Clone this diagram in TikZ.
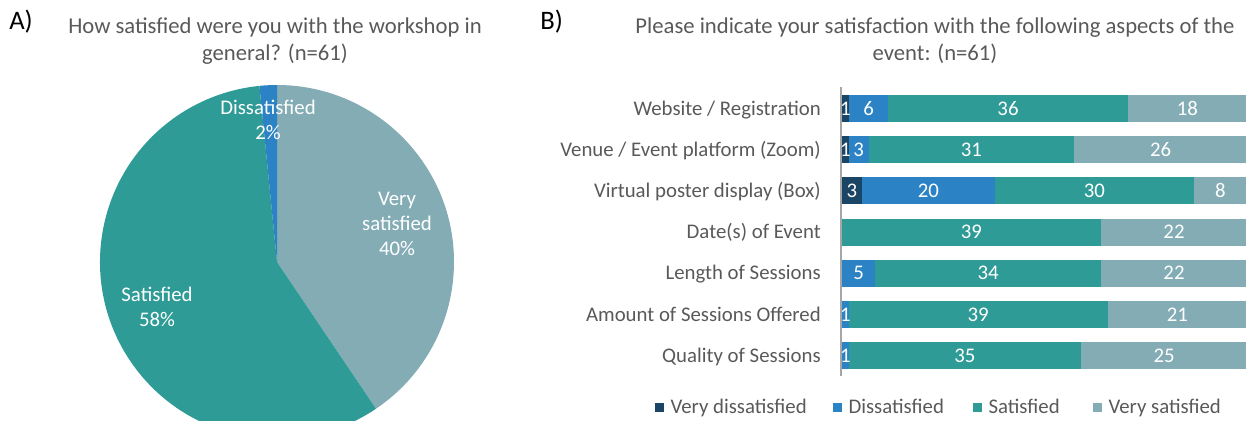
\documentclass[tikz,border=0pt]{standalone}
\usepackage{fontspec}
\setmainfont{Carlito}
\usetikzlibrary{positioning}
\definecolor{vdis}{HTML}{1B4565}
\definecolor{dis}{HTML}{2B83C6}
\definecolor{sat}{HTML}{2E9B96}
\definecolor{vsat}{HTML}{84ACB5}
\definecolor{txtgray}{HTML}{595959}
\tikzset{
x=0.75pt, y=-0.75pt,
panel/.style={font=\fontsize{20}{24}\selectfont, anchor=west, inner sep=0pt},
title/.style={text=txtgray, font=\fontsize{17}{20.3}\selectfont, align=center},
cat/.style={text=txtgray, font=\fontsize{15.6}{18}\selectfont, anchor=east, inner sep=0pt,
  text height=14pt, text depth=3.9pt},
val/.style={text=white, font=\fontsize{15.6}{18}\selectfont, inner sep=0pt,
  text height=14pt, text depth=3.9pt},
pielabel/.style={text=white, font=\fontsize{15.6}{18.75}\selectfont, align=center},
key/.style={fill=#1, minimum size=6.75pt, inner sep=0pt},
keytext/.style={text=txtgray, font=\fontsize{15.6}{18}\selectfont, inner sep=0pt,
  text height=14pt, text depth=3.9pt},
axis/.style={draw=black!35, line width=0.9pt},
}

\begin{document}
\begin{tikzpicture}
\clip (0,0) rectangle (1246,421);
% A) pie chart
\node[panel] (pa) at (9,22) {A)};
\node[title] (ta) at (275,41) {How satisfied were you with the workshop in\\general? (n=61)};
\coordinate (pc) at (277,262);
\fill[vsat] (pc) -- ++(90:132.75pt) arc[start angle=90, end angle=-56, radius=132.75pt] -- cycle;
\fill[sat] (pc) -- ++(-56:132.75pt) arc[start angle=-56, end angle=-264.3, radius=132.75pt] -- cycle;
\fill[dis] (pc) -- ++(95.7:132.75pt) arc[start angle=95.7, end angle=90, radius=132.75pt] -- cycle;
\node[pielabel] (ldis) at (268,120) {Dissatisfied\\2\%};
\node[pielabel] (lvsat) at (397,224) {Very\\satisfied\\40\%};
\node[pielabel] (lsat) at (157,307) {Satisfied\\58\%};
% B) stacked bars
\node[panel] (pb) at (540,22) {B)};
\node[title] (tb) at (935,41) {Please indicate your satisfaction with the following aspects of the\\event: (n=61)};
\draw[axis] (841,87) -- (841,376);
\foreach \name/\lbl/\y/\a/\b/\c/\d in {
  web/{Website / Registration}/108.4/1/6/36/18,
  venue/{Venue / Event platform (Zoom)}/149.6/1/3/31/26,
  poster/{Virtual poster display (Box)}/190.8/3/20/30/8,
  date/{Date(s) of Event}/232/0/0/39/22,
  length/{Length of Sessions}/273.1/0/5/34/22,
  amount/{Amount of Sessions Offered}/314.4/0/1/39/21,
  quality/{Quality of Sessions}/355.6/0/1/35/25}{
  \pgfmathsetmacro\xa{842+6.64*\a}
  \pgfmathsetmacro\xb{\xa+6.64*\b}
  \pgfmathsetmacro\xc{\xb+6.64*\c}
  \pgfmathsetmacro\xd{\xc+6.64*\d}
  \node[cat] (\name) at (821,\y) {\lbl};
  \fill[vdis] (842,\y-13.5) rectangle (\xa,\y+13.5);
  \fill[dis] (\xa,\y-13.5) rectangle (\xb,\y+13.5);
  \fill[sat] (\xb,\y-13.5) rectangle (\xc,\y+13.5);
  \fill[vsat] (\xc,\y-13.5) rectangle (\xd,\y+13.5);
  \ifnum\a>0 \node[val] (\name-a) at ({(842+\xa)/2},\y) {\a}; \fi
  \ifnum\b>0 \node[val] (\name-b) at ({(\xa+\xb)/2},\y) {\b}; \fi
  \node[val] (\name-c) at ({(\xb+\xc)/2},\y) {\c};
  \node[val] (\name-d) at ({(\xc+\xd)/2},\y) {\d};
}
% legend
\node[key=vdis] (k1) at (659.5,407) {};
\node[keytext, right=4.5pt of k1] (k1t) {Very dissatisfied};
\node[key=dis] (k2) at (837.5,407) {};
\node[keytext, right=4.5pt of k2] (k2t) {Dissatisfied};
\node[key=sat] (k3) at (977.5,407) {};
\node[keytext, right=4.5pt of k3] (k3t) {Satisfied};
\node[key=vsat] (k4) at (1097.5,407) {};
\node[keytext, right=4.5pt of k4] (k4t) {Very satisfied};
\end{tikzpicture}
\end{document}
